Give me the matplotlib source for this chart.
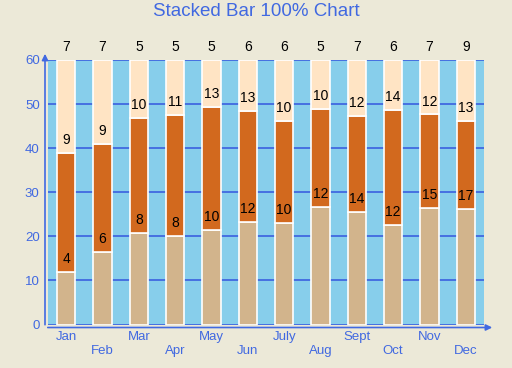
import matplotlib
matplotlib.use("Agg")
import matplotlib.pyplot as plt
import numpy as np

months = ["Jan", "Feb", "Mar", "Apr", "May", "Jun", "July", "Aug", "Sept", "Oct", "Nov", "Dec"]
series_a = [4, 6, 8, 8, 10, 12, 10, 12, 14, 12, 15, 17]
series_b = [9, 9, 10, 11, 13, 13, 10, 10, 12, 14, 12, 13]
series_c = [7, 7, 5, 5, 5, 6, 6, 5, 7, 6, 7, 9]
y_ticks = [0, 10, 20, 30, 40, 50, 60]
scale_max = 60

plt.rcParams['font.family'] = ['Liberation Sans', 'DejaVu Sans']

blue = '#4169E1'
fig = plt.figure(figsize=(5.12, 3.68), dpi=100, facecolor='#ECE9D8')
ax = fig.add_axes([48/512, 43.5/368, 436/512, 264.5/368])
ax.set_facecolor('#87CEEB')

a = np.array(series_a, float)
b = np.array(series_b, float)
c = np.array(series_c, float)
tot = a + b + c
pa = a / tot * scale_max
pb = b / tot * scale_max
pc = c / tot * scale_max
x = np.arange(len(months))

for yv in y_ticks:
    ax.axhline(yv, color=blue, lw=1.3, zorder=1)

ax.bar(x, pa, width=0.5, color='#D2B48C', edgecolor='white', lw=1.2, zorder=2)
ax.bar(x, pb, width=0.5, bottom=pa, color='#D2691E', edgecolor='white', lw=1.2, zorder=2)
ax.bar(x, pc, width=0.5, bottom=pa + pb, color='#FFE4C4', edgecolor='white', lw=1.2, zorder=2)

for i in range(len(months)):
    tops = [pa[i], pa[i] + pb[i], pa[i] + pb[i] + pc[i]]
    vals = [series_a[i], series_b[i], series_c[i]]
    for t, v in zip(tops, vals):
        ax.annotate(str(v), (x[i], t), xytext=(0, 9.3), textcoords='offset points',
                    ha='center', va='center', fontsize=10, color='black',
                    zorder=5, annotation_clip=False)

ax.set_xlim(-0.5, len(months) - 0.5)
ax.set_ylim(0, scale_max)
ax.set_yticks(y_ticks)
ax.set_yticklabels([str(v) for v in y_ticks], color=blue, fontsize=9.5)
ax.set_xticks(x)
ax.set_xticklabels([m if i % 2 == 0 else "\n" + m for i, m in enumerate(months)],
                   color=blue, fontsize=9.5, linespacing=1.3)
ax.tick_params(axis='both', length=0)
ax.tick_params(axis='y', pad=6)
ax.tick_params(axis='x', pad=4.5)
for s in ax.spines.values():
    s.set_visible(False)

# axis lines with arrows
ax.annotate('', xy=(-3/436, 1 + 9/264.5), xytext=(-3/436, -3/264.5),
            xycoords='axes fraction', textcoords='axes fraction',
            arrowprops=dict(arrowstyle='-|>', color=blue, lw=1.2, mutation_scale=9),
            annotation_clip=False)
ax.annotate('', xy=(1 + 11/436, -3/264.5), xytext=(-3/436, -3/264.5),
            xycoords='axes fraction', textcoords='axes fraction',
            arrowprops=dict(arrowstyle='-|>', color=blue, lw=1.2, mutation_scale=9),
            annotation_clip=False)

fig.text(0.5, 1 - 11.5/368, "Stacked Bar 100% Chart", ha='center', va='center',
         fontsize=13.5, color=blue)

fig.savefig("out.png", dpi=100, facecolor=fig.get_facecolor())
